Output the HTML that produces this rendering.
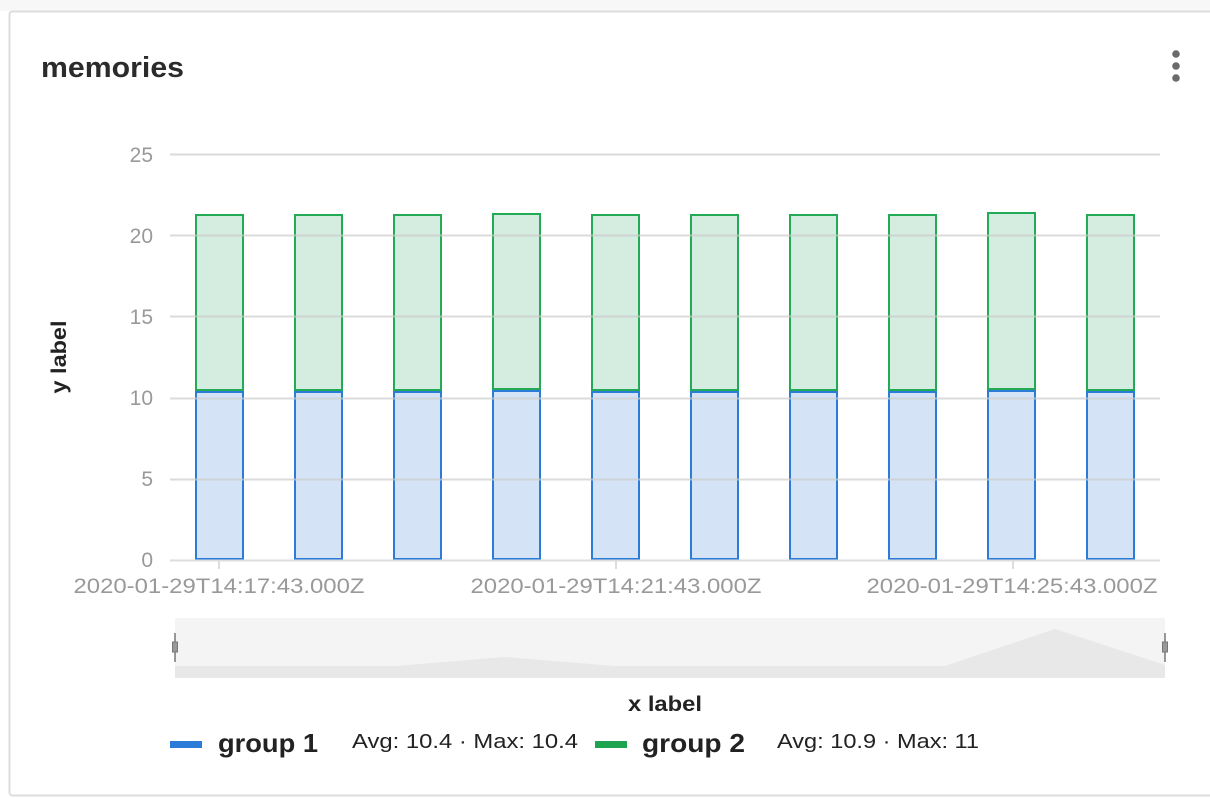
<!DOCTYPE html>
<html><head><meta charset="utf-8"><style>
html,body{margin:0;padding:0;background:#fff;width:1210px;height:798px;overflow:hidden}
svg{display:block;font-family:"Liberation Sans",Arial,sans-serif}
</style></head><body>
<svg width="1210" height="798" viewBox="0 0 1210 798">
<rect x="0" y="0" width="1210" height="11" fill="#f7f7f7"/>
<rect x="9.5" y="11.5" width="1220" height="784" fill="#fff" stroke="#ddd" stroke-width="2" rx="3"/>
<text x="41" y="77" font-size="29" font-weight="bold" fill="#2b2b2b" textLength="143" lengthAdjust="spacingAndGlyphs">memories</text>
<circle cx="1176" cy="54" r="3.8" fill="#6b6b6b"/><circle cx="1176" cy="66" r="3.8" fill="#6b6b6b"/><circle cx="1176" cy="78" r="3.8" fill="#6b6b6b"/>
<g font-size="21" fill="#999" text-anchor="end">
<text x="153" y="162">25</text><text x="153" y="243">20</text><text x="153" y="324">15</text><text x="153" y="405">10</text><text x="153" y="486">5</text><text x="153" y="567">0</text>
</g>
<text transform="translate(66,357) rotate(-90)" font-size="21" font-weight="bold" fill="#222" text-anchor="middle" textLength="73" lengthAdjust="spacingAndGlyphs">y label</text>
<g stroke-width="2">
<rect x="196" y="215" width="47" height="175" fill="#d5ede0" stroke="#22aa55"/><rect x="196" y="392" width="47" height="167" fill="#d4e4f6" stroke="#2b7bd8"/>
<rect x="295" y="215" width="47" height="175" fill="#d5ede0" stroke="#22aa55"/><rect x="295" y="392" width="47" height="167" fill="#d4e4f6" stroke="#2b7bd8"/>
<rect x="394" y="215" width="47" height="175" fill="#d5ede0" stroke="#22aa55"/><rect x="394" y="392" width="47" height="167" fill="#d4e4f6" stroke="#2b7bd8"/>
<rect x="493" y="214" width="47" height="175" fill="#d5ede0" stroke="#22aa55"/><rect x="493" y="391" width="47" height="168" fill="#d4e4f6" stroke="#2b7bd8"/>
<rect x="592" y="215" width="47" height="175" fill="#d5ede0" stroke="#22aa55"/><rect x="592" y="392" width="47" height="167" fill="#d4e4f6" stroke="#2b7bd8"/>
<rect x="691" y="215" width="47" height="175" fill="#d5ede0" stroke="#22aa55"/><rect x="691" y="392" width="47" height="167" fill="#d4e4f6" stroke="#2b7bd8"/>
<rect x="790" y="215" width="47" height="175" fill="#d5ede0" stroke="#22aa55"/><rect x="790" y="392" width="47" height="167" fill="#d4e4f6" stroke="#2b7bd8"/>
<rect x="889" y="215" width="47" height="175" fill="#d5ede0" stroke="#22aa55"/><rect x="889" y="392" width="47" height="167" fill="#d4e4f6" stroke="#2b7bd8"/>
<rect x="988" y="213" width="47" height="176" fill="#d5ede0" stroke="#22aa55"/><rect x="988" y="391" width="47" height="168" fill="#d4e4f6" stroke="#2b7bd8"/>
<rect x="1087" y="215" width="47" height="175" fill="#d5ede0" stroke="#22aa55"/><rect x="1087" y="392" width="47" height="167" fill="#d4e4f6" stroke="#2b7bd8"/>
</g>
<g stroke="#ccc" stroke-width="2" opacity="0.7">
<line x1="170" y1="154.5" x2="1160" y2="154.5"/><line x1="170" y1="235.5" x2="1160" y2="235.5"/><line x1="170" y1="316.5" x2="1160" y2="316.5"/><line x1="170" y1="398.5" x2="1160" y2="398.5"/><line x1="170" y1="479.5" x2="1160" y2="479.5"/>
</g>
<line x1="170" y1="560.5" x2="1160" y2="560.5" stroke="#ddd" stroke-width="2"/>
<g stroke="#ddd" stroke-width="2"><line x1="219" y1="560" x2="219" y2="569"/><line x1="616" y1="560" x2="616" y2="569"/><line x1="1013" y1="560" x2="1013" y2="569"/></g>
<g font-size="21" fill="#999" text-anchor="middle">
<text x="219" y="593" textLength="291" lengthAdjust="spacingAndGlyphs">2020-01-29T14:17:43.000Z</text><text x="616" y="593" textLength="291" lengthAdjust="spacingAndGlyphs">2020-01-29T14:21:43.000Z</text><text x="1012" y="593" textLength="291" lengthAdjust="spacingAndGlyphs">2020-01-29T14:25:43.000Z</text>
</g>
<rect x="175" y="618" width="990" height="60" fill="#f4f4f4"/>
<polygon points="175,666 395,666 505,657 615,666 945,666 1055,629 1165,665 1165,678 175,678" fill="#e8e8e8"/>
<g fill="#888" stroke="#777"><line x1="175" y1="633" x2="175" y2="662" stroke-width="1.5"/><rect x="172.5" y="642" width="5" height="10" fill="#999" stroke-width="1"/>
<line x1="1165" y1="633" x2="1165" y2="662" stroke-width="1.5"/><rect x="1162.5" y="642" width="5" height="10" fill="#999" stroke-width="1"/></g>
<text x="665" y="711" font-size="21" font-weight="bold" fill="#222" text-anchor="middle" textLength="74" lengthAdjust="spacingAndGlyphs">x label</text>
<rect x="170" y="741" width="32" height="7" fill="#2b7bd8"/>
<text x="218" y="752" font-size="26" font-weight="bold" fill="#222" textLength="100" lengthAdjust="spacingAndGlyphs">group 1</text>
<text x="352" y="748" font-size="20" fill="#222" textLength="226" lengthAdjust="spacingAndGlyphs">Avg: 10.4 · Max: 10.4</text>
<rect x="595" y="741" width="32" height="7" fill="#1ea34f"/>
<text x="642" y="752" font-size="26" font-weight="bold" fill="#222" textLength="103" lengthAdjust="spacingAndGlyphs">group 2</text>
<text x="777" y="748" font-size="20" fill="#222" textLength="202" lengthAdjust="spacingAndGlyphs">Avg: 10.9 · Max: 11</text>
</svg>
</body></html>
